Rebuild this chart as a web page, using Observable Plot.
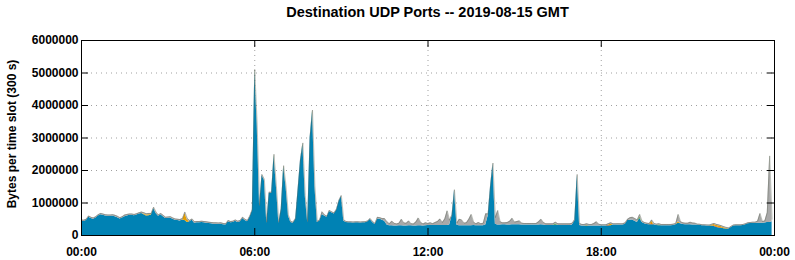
<!DOCTYPE html>
<html><head><meta charset="utf-8">
<script src="https://cdn.jsdelivr.net/npm/d3@7"></script>
<script src="https://cdn.jsdelivr.net/npm/@observablehq/plot@0.6"></script>
<style>
body{margin:0;background:#fff;font-family:"Liberation Sans",Arial,sans-serif;}
#wrap{position:relative;width:795px;height:260px;}
#title{position:absolute;top:4px;left:81px;width:693px;text-align:center;font-weight:bold;font-size:14.5px;line-height:16px;z-index:2;}
</style></head><body>
<div id="wrap"><div id="title">Destination UDP Ports -- 2019-08-15 GMT</div></div>
<script>
// Bytes per 300 s slot, in thousands, 288 slots from 2019-08-15 00:00 GMT
const blueK = [
440,430,460,560,520,500,540,600,640,620,600,590,
590,600,580,550,510,540,580,600,620,620,610,630,
660,680,640,600,610,620,830,680,590,640,580,520,
530,540,500,470,460,450,480,460,400,420,470,380,
390,390,400,390,380,370,360,350,350,345,350,330,
320,420,390,400,440,400,420,520,460,420,560,760,
5050,3400,900,1850,1700,380,1300,1300,2450,1500,380,800,
2100,1500,600,400,380,500,1400,2300,2800,1200,400,3000,
3800,1500,400,450,650,600,560,740,700,660,780,1050,
1200,450,400,390,390,385,390,390,385,390,395,420,
490,400,340,500,510,470,440,320,300,300,295,295,
300,300,295,295,300,300,295,295,300,300,295,300,
310,310,305,310,310,310,310,310,310,320,600,1380,
320,300,300,300,300,300,300,305,300,300,300,300,
320,600,1500,2200,350,320,320,330,330,320,320,330,
330,330,330,320,320,320,320,320,320,320,320,330,
320,310,310,310,310,320,310,310,310,310,310,310,
320,450,1850,310,290,290,290,290,290,290,290,290,
290,290,290,295,300,320,320,325,320,320,350,460,
470,480,440,400,520,400,360,340,330,330,330,310,
300,300,300,300,300,300,310,330,380,360,340,330,
330,330,325,320,320,315,300,300,295,290,290,280,
250,230,220,210,200,200,250,290,300,300,300,310,
330,360,370,380,380,380,380,380,385,400,400,420
];
const grayK = [
40,40,40,40,40,40,40,40,40,40,40,40,
40,40,40,40,40,40,50,50,40,40,40,40,
40,40,40,40,40,40,40,40,40,40,40,40,
40,40,40,40,40,40,40,40,40,40,40,40,
40,40,40,40,40,40,40,40,40,40,40,40,
40,40,40,40,40,40,40,40,40,40,40,40,
30,30,30,30,30,30,30,30,30,30,30,30,
30,30,30,30,30,30,30,30,30,30,30,30,
30,30,30,30,80,40,30,30,30,30,30,30,
30,30,30,30,30,30,30,30,30,30,30,30,
30,30,30,60,40,50,80,100,60,140,80,60,
80,200,90,80,150,60,60,120,240,100,60,90,
60,80,60,90,120,200,90,200,450,150,40,30,
60,200,180,80,90,200,350,100,60,100,60,80,
350,60,40,30,200,450,100,60,60,80,120,200,
80,100,120,60,50,50,50,50,50,50,100,170,
80,50,50,50,50,50,50,50,50,50,50,50,
60,40,30,60,50,50,50,50,50,80,130,60,
40,40,40,40,40,40,40,40,40,40,40,40,
80,80,80,80,70,40,40,40,40,40,40,40,
40,40,40,40,40,40,40,40,230,60,50,50,
50,80,60,60,30,30,30,30,30,30,30,30,
30,30,30,30,30,30,30,30,30,30,30,30,
30,30,30,30,30,60,300,50,60,300,2050,80
];
// sparse small series: slot index and value (thousands)
const orangeSlots = [26,27,28,29,43,44,210,220,237,248,262,263,264,265,266,267,268];
const orangeK     = [20,30,30,20,220,80,20,50,70,40,30,40,40,40,30,30,20];
const redSlots = [219,237,263,264,265,266];
const redK     = [30,40,20,20,20,20];
const greenSlots = [72,73,80,84,92,96,197,232,240];
const greenK     = [30,30,20,20,20,30,40,60,20];

const seriesNames = ["blue","green","red","orange","other"];
const seriesColors = ["#0082b4","#4d9a2a","#d55e00","#e69f00","#a9a9a9"];
const yTicks = [0,1000000,2000000,3000000,4000000,5000000,6000000];
const xTickLabels = ["00:00","06:00","12:00","18:00","00:00"];
const xTickHours = [0,6,12,18,24];
const yLabel = "Bytes per time slot (300 s)";

const t0 = Date.UTC(2019,7,15);
const slotMs = 300000;
const n = blueK.length;
const sparse = (slots, vals) => { const a = new Array(n).fill(0); slots.forEach((s,i)=>a[s]=vals[i]); return a; };
const seriesK = {
  blue: blueK,
  green: sparse(greenSlots, greenK),
  red: sparse(redSlots, redK),
  orange: sparse(orangeSlots, orangeK),
  other: grayK
};
const rows = [];
for (const s of seriesNames) for (let i=0;i<n;i++) rows.push({t:new Date(t0+i*slotMs), v:seriesK[s][i]*1000, series:s});
const totals = d3.range(n).map(i => ({t:new Date(t0+i*slotMs), v: seriesNames.reduce((a,s)=>a+seriesK[s][i],0)*1000}));
const xTicks = xTickHours.map(h => new Date(t0 + h*3600000));

const W=795,H=260,mT=40,mB=25,mL=81,mR=21;
const pw=W-mL-mR, ph=H-mT-mB;

const chart = Plot.plot({
  width:W, height:H, marginTop:mT, marginBottom:mB, marginLeft:mL, marginRight:mR,
  style:{fontFamily:"'Liberation Sans', Arial, sans-serif", fontSize:"12px", fontWeight:"bold", color:"#000", background:"#fff"},
  x:{type:"utc", domain:[new Date(t0), new Date(t0+86400000)], ticks:xTicks, tickFormat:(d,i)=>xTickLabels[i], label:null},
  y:{domain:[0,6000000], ticks:yTicks, tickFormat:d=>String(d), label:null},
  color:{domain:seriesNames, range:seriesColors},
  marks:[
    Plot.gridY(yTicks, {stroke:"#a0a0a0", strokeOpacity:1, strokeDasharray:"1,4"}),
    Plot.gridX(xTicks, {stroke:"#a0a0a0", strokeOpacity:1, strokeDasharray:"1,4"}),
    Plot.areaY(rows, {x:"t", y:"v", z:"series", fill:"series", order:seriesNames, curve:"linear"}),
    Plot.lineY(totals, {x:"t", y:"v", stroke:"#5f6658", strokeWidth:0.5, strokeOpacity:0.8, curve:"linear"}),
    Plot.frame({stroke:"#000", strokeWidth:1}),
    Plot.tickY(yTicks, {y:d=>d, insetRight:pw-7, stroke:"#000"}),
    Plot.tickY(yTicks, {y:d=>d, insetLeft:pw-7, stroke:"#000"}),
    Plot.tickX(xTicks, {x:d=>d, insetTop:ph-7, stroke:"#000"}),
    Plot.tickX(xTicks, {x:d=>d, insetBottom:ph-7, stroke:"#000"}),
    Plot.axisY(yTicks, {tickSize:0, tickPadding:3, label:null, tickFormat:d=>String(d)}),
    Plot.axisX(xTicks, {tickSize:0, tickPadding:12, label:null, tickFormat:(d,i)=>xTickLabels[i]}),
    Plot.text([yLabel], {frameAnchor:"left", textAnchor:"middle", rotate:-90, dx:-69, dy:-4, fontSize:12, fontWeight:"bold", fill:"#000"})
  ]
});
document.getElementById("wrap").appendChild(chart);
</script>
</body></html>
